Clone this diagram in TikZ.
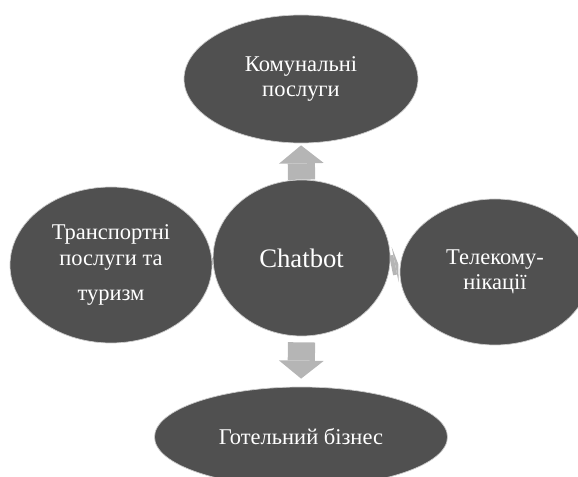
\documentclass[tikz,border=0pt]{standalone}
\usepackage{fontspec}
\setmainfont{Liberation Serif}
\usepackage{tikz}
\usepackage{xcolor}
\usetikzlibrary{shapes.geometric,arrows.meta,backgrounds}

\definecolor{bubblegray}{HTML}{505050}
\definecolor{arrowgray}{HTML}{B5B5B5}

\tikzset{
  bubble/.style={ellipse, fill=bubblegray, draw=white!80!black, line width=0.5pt,
    text=white, align=center, inner sep=0pt, font=\fontsize{16}{17.8}\selectfont},
  blockarrow/.style={arrowgray, line width=0.68cm,
    -{Triangle[width=1.12cm,length=0.45cm,line width=0pt]}},
  sidearrow/.style={arrowgray, line width=0.5cm,
    -{Triangle[width=0.9cm,length=0.08cm,line width=0pt]}},
}

\begin{document}
\begin{tikzpicture}
\useasboundingbox (0,0) rectangle (14.45,-11.925);
\clip (0,0) rectangle (14.45,-11.925);

\node[bubble, minimum width=5.85cm, minimum height=3.2cm] (comm) at (7.525,-1.975) {Комунальні\\послуги};
\node[bubble, minimum width=4.425cm, minimum height=3.9cm, font=\fontsize{19}{22}\selectfont] (chat) at (7.54,-6.45) {Chatbot};
\node[bubble, minimum width=5.05cm, minimum height=3.9cm] (transport) at (2.775,-6.625) {Транспортні\\послуги та\\[0.25cm]туризм};
\node[bubble, minimum width=4.75cm, minimum height=3.65cm] (telecom) at (12.375,-6.8) {Телекому-\\нікації};
\node[bubble, minimum width=7.325cm, minimum height=2.5cm] (hotel) at (7.525,-10.925) {Готельний бізнес};

\begin{scope}[on background layer]
\draw[blockarrow, shorten >=0.05cm] (chat.north) -- (comm.south);
\draw[blockarrow, shorten <=0.15cm, shorten >=0.2cm] (chat.south) -- (hotel.north);
\draw[sidearrow, shorten <=0.03cm, shorten >=0.05cm] (chat.-5) -- (telecom.175);
\draw[sidearrow] (chat.west) -- (transport.east);
\end{scope}
\end{tikzpicture}
\end{document}
